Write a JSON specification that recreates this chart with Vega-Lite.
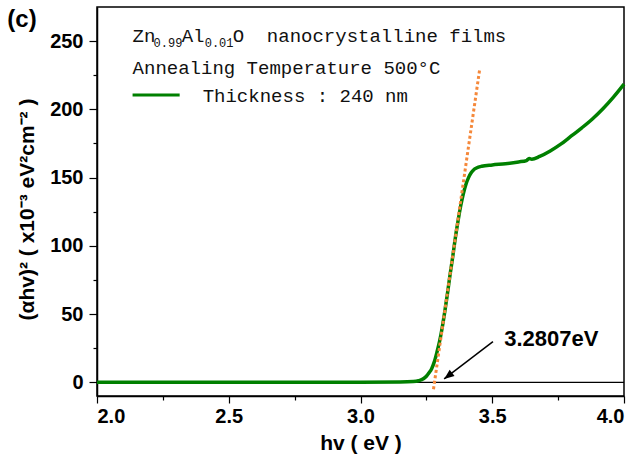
{
  "$schema": "https://vega.github.io/schema/vega-lite/v6.json",
  "width": 527,
  "height": 389,
  "autosize": {"type": "none"},
  "padding": {"left": 97, "top": 7, "right": 16, "bottom": 65},
  "background": "white",
  "config": {
    "view": {"stroke": "black", "strokeWidth": 1.5},
    "axis": {
      "domainColor": "black", "domainWidth": 1.5, "tickColor": "black", "tickWidth": 1.2,
      "labelColor": "black", "labelFont": "Liberation Sans", "labelFontWeight": "bold", "labelFontSize": 20,
      "titleColor": "black", "titleFont": "Liberation Sans", "titleFontWeight": "bold", "titleFontSize": 21,
      "grid": false
    }
  },
  "datasets": {
    "curve": [
      {"hv": 2.00, "val": 0}, {"hv": 2.50, "val": 0}, {"hv": 3.00, "val": 0}, {"hv": 3.15, "val": 0.2},
      {"hv": 3.20, "val": 0.6}, {"hv": 3.22, "val": 1.2}, {"hv": 3.24, "val": 2.8}, {"hv": 3.25, "val": 4.5},
      {"hv": 3.26, "val": 7}, {"hv": 3.27, "val": 10}, {"hv": 3.28, "val": 15}, {"hv": 3.29, "val": 22},
      {"hv": 3.30, "val": 30}, {"hv": 3.31, "val": 40}, {"hv": 3.32, "val": 52}, {"hv": 3.33, "val": 65},
      {"hv": 3.34, "val": 79}, {"hv": 3.35, "val": 92}, {"hv": 3.36, "val": 106}, {"hv": 3.37, "val": 118},
      {"hv": 3.38, "val": 129}, {"hv": 3.39, "val": 138}, {"hv": 3.40, "val": 145}, {"hv": 3.41, "val": 150},
      {"hv": 3.42, "val": 153.5}, {"hv": 3.43, "val": 155.8}, {"hv": 3.44, "val": 157}, {"hv": 3.46, "val": 158.3},
      {"hv": 3.50, "val": 159.3}, {"hv": 3.55, "val": 160.2}, {"hv": 3.60, "val": 161.5}, {"hv": 3.63, "val": 162.5},
      {"hv": 3.64, "val": 164}, {"hv": 3.65, "val": 163.5}, {"hv": 3.68, "val": 165.5}, {"hv": 3.72, "val": 169.5},
      {"hv": 3.76, "val": 174.5}, {"hv": 3.80, "val": 180.5}, {"hv": 3.84, "val": 186.5}, {"hv": 3.88, "val": 193},
      {"hv": 3.92, "val": 200.5}, {"hv": 3.96, "val": 209}, {"hv": 4.00, "val": 218.5}
    ],
    "tangent": [{"hv": 3.277, "val": -5}, {"hv": 3.452, "val": 229}],
    "zero": [{"hv": 2, "hv2": 4, "val": 0}],
    "arrow": [{"hv": 3.5027, "val": 29.8, "hv2": 3.3175, "val2": 2.5}],
    "legline": [{"hv": 2.135, "hv2": 2.3137, "val": 210.5}],
    "legtext": [
      {"hv": 2.135, "val": 249.6, "t": "Zn"},
      {"hv": 2.3213, "val": 249.6, "t": "Al"},
      {"hv": 2.5152, "val": 249.6, "t": "O"},
      {"hv": 2.6445, "val": 249.6, "t": "nanocrystalline films"},
      {"hv": 2.135, "val": 225.9, "t": "Annealing Temperature 500°C"},
      {"hv": 2.401, "val": 205.6, "t": "Thickness : 240 nm"}
    ],
    "legsub": [
      {"hv": 2.2148, "val": 245.6, "t": "0.99"},
      {"hv": 2.4087, "val": 245.6, "t": "0.01"}
    ],
    "annot": [{"hv": 3.5456, "val": 26.6, "t": "3.2807eV"}],
    "panel": [{"hv": 1.6597, "val": 260.3, "t": "(c)"}]
  },
  "encoding": {
    "x": {
      "field": "hv", "type": "quantitative",
      "scale": {"domain": [2, 4], "nice": false, "zero": false},
      "axis": {
        "title": "hv ( eV )",
        "values": [2, 2.25, 2.5, 2.75, 3, 3.25, 3.5, 3.75, 4],
        "labelExpr": "datum.value % 0.5 === 0 ? format(datum.value, '.1f') : ''",
        "tickSize": {"condition": {"test": "datum.value % 0.5 !== 0", "value": 4}, "value": 7},
        "labelPadding": 3,
        "titlePadding": 6
      }
    },
    "y": {
      "field": "val", "type": "quantitative",
      "scale": {"domain": [-10, 275], "nice": false, "zero": false},
      "axis": {
        "title": "(αhv)² ( x10⁻³ eV²cm⁻² )",
        "values": [0, 25, 50, 75, 100, 125, 150, 175, 200, 225, 250],
        "labelExpr": "datum.value % 50 === 0 ? datum.label : ''",
        "tickSize": {"condition": {"test": "datum.value % 50 !== 0", "value": 4}, "value": 8},
        "labelPadding": 6,
        "titleX": -70,
        "titleY": 202,
        "titleBaseline": "middle"
      }
    }
  },
  "layer": [
    {
      "data": {"name": "zero"},
      "mark": {"type": "rule", "color": "black", "strokeWidth": 1.2},
      "encoding": {"x2": {"field": "hv2"}}
    },
    {
      "data": {"name": "curve"},
      "mark": {"type": "line", "color": "#008000", "strokeWidth": 3.5, "interpolate": "monotone"}
    },
    {
      "data": {"name": "tangent"},
      "mark": {"type": "line", "color": "#F5883A", "strokeWidth": 3, "strokeDash": [3, 2.5]}
    },
    {
      "data": {"name": "arrow"},
      "mark": {"type": "rule", "color": "black", "strokeWidth": 1.5},
      "encoding": {"x2": {"field": "hv2"}, "y2": {"field": "val2"}}
    },
    {
      "data": {"name": "arrow"},
      "mark": {"type": "point", "shape": "M0,0 L-0.4,1 L0.4,1 Z", "angle": 232.6, "size": 400, "filled": true, "color": "black", "opacity": 1},
      "encoding": {"x": {"field": "hv2", "type": "quantitative"}, "y": {"field": "val2", "type": "quantitative"}}
    },
    {
      "data": {"name": "legline"},
      "mark": {"type": "rule", "color": "#008000", "strokeWidth": 3},
      "encoding": {"x2": {"field": "hv2"}}
    },
    {
      "data": {"name": "legtext"},
      "mark": {"type": "text", "font": "Liberation Mono", "fontSize": 19, "align": "left", "baseline": "alphabetic", "color": "#111111"},
      "encoding": {"text": {"field": "t"}}
    },
    {
      "data": {"name": "legsub"},
      "mark": {"type": "text", "font": "Liberation Mono", "fontSize": 12, "align": "left", "baseline": "alphabetic", "color": "#111111"},
      "encoding": {"text": {"field": "t"}}
    },
    {
      "data": {"name": "annot"},
      "mark": {"type": "text", "font": "Liberation Sans", "fontSize": 22, "fontWeight": "bold", "align": "left", "baseline": "alphabetic", "color": "black"},
      "encoding": {"text": {"field": "t"}}
    },
    {
      "data": {"name": "panel"},
      "mark": {"type": "text", "font": "Liberation Sans", "fontSize": 24, "fontWeight": "bold", "align": "left", "baseline": "alphabetic", "color": "black"},
      "encoding": {"text": {"field": "t"}}
    }
  ]
}
